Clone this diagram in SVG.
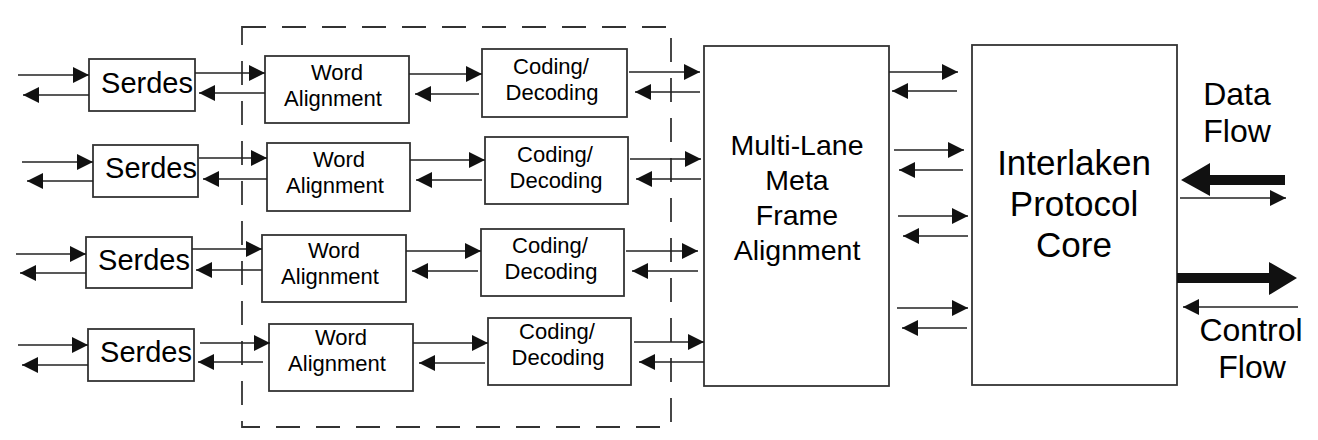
<svg xmlns="http://www.w3.org/2000/svg" width="1318" height="440" viewBox="0 0 1318 440">
<defs>
<marker id="ah" viewBox="0 0 16 16" refX="16" refY="8" markerWidth="16" markerHeight="16" markerUnits="userSpaceOnUse" orient="auto"><path d="M0,0 L16,8 L0,16 z" fill="#111"/></marker>
<style>
.box{fill:#fff;stroke:#333;stroke-width:1.8}
.ar{stroke:#222;stroke-width:1.6;fill:none;marker-end:url(#ah)}
.dash{fill:none;stroke:#333;stroke-width:1.8;stroke-dasharray:24 16}
.t{font-family:"Liberation Sans",Arial,sans-serif;fill:#000;text-anchor:middle}
.s{font-size:29px}
.w{font-size:22px}
.m{font-size:28.5px}
.i{font-size:35px}
.f{font-size:32px}
</style>
</defs>
<rect width="1318" height="440" fill="#fff"/>
<rect id="lane-group" class="dash" x="242" y="27" width="429" height="400"/>

<g id="serdes1"><rect class="box" x="89" y="59" width="106" height="52"/><text class="t s" x="147" y="93">Serdes</text></g>
<g id="serdes2"><rect class="box" x="93" y="145" width="105" height="52"/><text class="t s" x="151" y="178">Serdes</text></g>
<g id="serdes3"><rect class="box" x="86" y="237" width="106" height="51"/><text class="t s" x="144" y="270">Serdes</text></g>
<g id="serdes4"><rect class="box" x="88" y="329" width="106" height="52"/><text class="t s" x="146" y="362">Serdes</text></g>

<g id="word1"><rect class="box" x="265" y="56" width="144" height="67"/><text class="t w" x="337" y="80">Word</text><text class="t w" x="333" y="106">Alignment</text></g>
<g id="word2"><rect class="box" x="267" y="143" width="143" height="68"/><text class="t w" x="339" y="167">Word</text><text class="t w" x="335" y="193">Alignment</text></g>
<g id="word3"><rect class="box" x="262" y="235" width="144" height="67"/><text class="t w" x="334" y="258">Word</text><text class="t w" x="330" y="284">Alignment</text></g>
<g id="word4"><rect class="box" x="269" y="324" width="144" height="67"/><text class="t w" x="341" y="345">Word</text><text class="t w" x="337" y="371">Alignment</text></g>

<g id="coding1"><rect class="box" x="482" y="49" width="145" height="68"/><text class="t w" x="551" y="74">Coding/</text><text class="t w" x="552" y="100">Decoding</text></g>
<g id="coding2"><rect class="box" x="485" y="137" width="143" height="67"/><text class="t w" x="555" y="162">Coding/</text><text class="t w" x="556" y="188">Decoding</text></g>
<g id="coding3"><rect class="box" x="481" y="229" width="143" height="67"/><text class="t w" x="550" y="253">Coding/</text><text class="t w" x="551" y="279">Decoding</text></g>
<g id="coding4"><rect class="box" x="488" y="318" width="143" height="67"/><text class="t w" x="557" y="339">Coding/</text><text class="t w" x="558" y="365">Decoding</text></g>

<g id="mlmfa"><rect class="box" x="704" y="46" width="185" height="340"/>
<text class="t m" x="797" y="155">Multi-Lane</text><text class="t m" x="797" y="190">Meta</text><text class="t m" x="797" y="225">Frame</text><text class="t m" x="797" y="260">Alignment</text></g>

<g id="interlaken"><rect class="box" x="972" y="45" width="205" height="340"/>
<text class="t i" x="1074" y="175">Interlaken</text><text class="t i" x="1074" y="216">Protocol</text><text class="t i" x="1074" y="257">Core</text></g>

<g id="labels">
<text class="t f" x="1237" y="105">Data</text><text class="t f" x="1237" y="142">Flow</text>
<text class="t f" x="1251" y="341">Control</text><text class="t f" x="1252" y="378">Flow</text>
</g>

<g id="connectors">
<line class="ar" x1="18" y1="75" x2="89" y2="75"/>
<line class="ar" x1="89" y1="95" x2="23" y2="95"/>
<line class="ar" x1="195" y1="73" x2="265" y2="73"/>
<line class="ar" x1="265" y1="93" x2="199" y2="93"/>
<line class="ar" x1="409" y1="74" x2="482" y2="74"/>
<line class="ar" x1="479" y1="94" x2="415" y2="94"/>
<line class="ar" x1="629" y1="72" x2="700" y2="72"/>
<line class="ar" x1="700" y1="92" x2="635" y2="92"/>
<line class="ar" x1="22" y1="162" x2="93" y2="162"/>
<line class="ar" x1="93" y1="181" x2="27" y2="181"/>
<line class="ar" x1="199" y1="158" x2="267" y2="158"/>
<line class="ar" x1="267" y1="179" x2="203" y2="179"/>
<line class="ar" x1="410" y1="160" x2="485" y2="160"/>
<line class="ar" x1="482" y1="180" x2="416" y2="180"/>
<line class="ar" x1="630" y1="159" x2="701" y2="159"/>
<line class="ar" x1="701" y1="179" x2="636" y2="179"/>
<line class="ar" x1="16" y1="254" x2="86" y2="254"/>
<line class="ar" x1="86" y1="273" x2="20" y2="273"/>
<line class="ar" x1="192" y1="249" x2="262" y2="249"/>
<line class="ar" x1="262" y1="270" x2="196" y2="270"/>
<line class="ar" x1="406" y1="251" x2="481" y2="251"/>
<line class="ar" x1="478" y1="271" x2="412" y2="271"/>
<line class="ar" x1="626" y1="251" x2="698" y2="251"/>
<line class="ar" x1="698" y1="271" x2="632" y2="271"/>
<line class="ar" x1="18" y1="345" x2="88" y2="345"/>
<line class="ar" x1="88" y1="365" x2="22" y2="365"/>
<line class="ar" x1="200" y1="343" x2="270" y2="343"/>
<line class="ar" x1="263" y1="362" x2="198" y2="362"/>
<line class="ar" x1="413" y1="343" x2="488" y2="343"/>
<line class="ar" x1="485" y1="363" x2="419" y2="363"/>
<line class="ar" x1="634" y1="342" x2="704" y2="342"/>
<line class="ar" x1="704" y1="362" x2="639" y2="362"/>
<line class="ar" x1="889" y1="72" x2="958" y2="72"/>
<line class="ar" x1="957" y1="91" x2="892" y2="91"/>
<line class="ar" x1="894" y1="150" x2="964" y2="150"/>
<line class="ar" x1="963" y1="170" x2="899" y2="170"/>
<line class="ar" x1="898" y1="216" x2="968" y2="216"/>
<line class="ar" x1="968" y1="236" x2="903" y2="236"/>
<line class="ar" x1="897" y1="308" x2="968" y2="308"/>
<line class="ar" x1="967" y1="328" x2="902" y2="328"/>
<path d="M1285,175 L1210,175 L1210,163 L1181,180 L1210,196 L1210,185 L1285,185 z" fill="#111"/>
<line class="ar" x1="1180" y1="198" x2="1286" y2="198"/>
<path d="M1177,273 L1269,273 L1269,262 L1297,278 L1269,295 L1269,283 L1177,283 z" fill="#111"/>
<line class="ar" x1="1298" y1="307" x2="1183" y2="307"/>
</g>
</svg>
